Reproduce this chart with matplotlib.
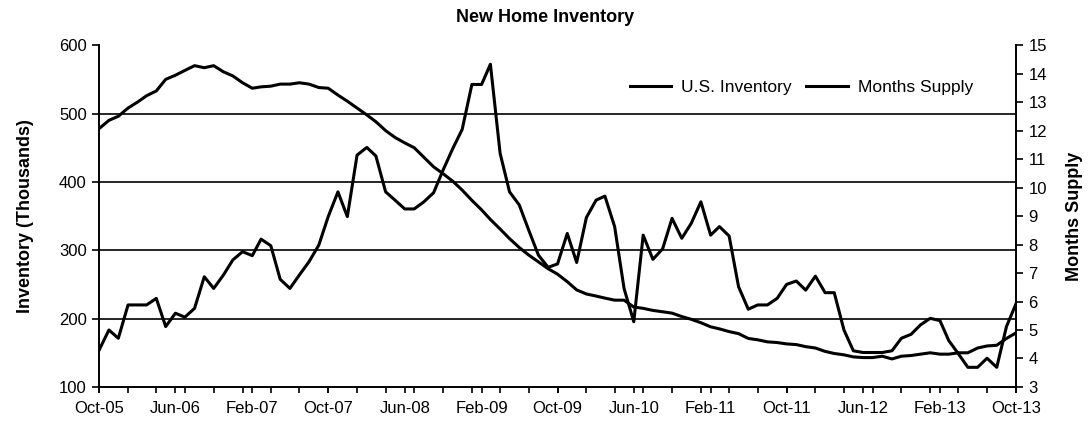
import matplotlib
matplotlib.use("Agg")
import matplotlib.pyplot as plt
import matplotlib.dates as mdates
import pandas as pd

plt.rcParams["font.family"] = ["Liberation Sans", "DejaVu Sans"]
plt.rcParams["font.size"] = 12

# monthly data, Oct-05 .. Oct-13
months = pd.date_range("2005-10-01", periods=97, freq="MS")

# new homes for sale, thousands (left axis)
inventory = [
    478, 490, 496, 508, 517, 526, 533, 550, 556, 563, 570, 567, 570,
    561, 555, 545, 537, 539, 540, 543, 543, 545, 543, 538, 537,
    527, 518, 508, 498, 488, 475, 465, 457, 450, 436, 422, 412,
    401, 388, 373, 359, 345, 331, 317, 304, 293, 283, 273, 265,
    254, 242, 236, 233, 230, 227, 227, 217, 215, 212, 210, 208,
    203, 199, 194, 188, 185, 181, 178, 171, 169, 166, 165, 163,
    162, 159, 157, 152, 149, 147, 144, 143, 143, 145, 141, 145,
    146, 148, 150, 148, 148, 150, 150, 157, 160, 161, 171, 179,
]

# months supply (right axis)
months_supply = [
    4.30, 5.00, 4.71, 5.88, 5.88, 5.88, 6.11, 5.12, 5.59, 5.45, 5.76, 6.87, 6.46,
    6.93, 7.46, 7.75, 7.61, 8.19, 7.96, 6.78, 6.46, 6.93, 7.40, 7.98, 8.98,
    9.85, 8.98, 11.14, 11.41, 11.11, 9.85, 9.56, 9.25, 9.25, 9.50, 9.82, 10.61,
    11.37, 12.04, 13.62, 13.62, 14.33, 11.20, 9.85, 9.39, 8.51, 7.63, 7.20, 7.32,
    8.39, 7.37, 8.95, 9.56, 9.70, 8.63, 6.46, 5.29, 8.33, 7.48, 7.85, 8.92,
    8.22, 8.74, 9.50, 8.33, 8.63, 8.30, 6.52, 5.73, 5.88, 5.88, 6.11, 6.60,
    6.72, 6.40, 6.89, 6.31, 6.31, 5.00, 4.27, 4.21, 4.21, 4.21, 4.27, 4.71,
    4.85, 5.18, 5.41, 5.33, 4.63, 4.16, 3.69, 3.69, 4.01, 3.69, 5.12, 5.91,
]

fig = plt.figure(figsize=(10.9, 4.22), dpi=100)
ax = fig.add_axes([0.091, 0.083, 0.841, 0.810])
ax2 = ax.twinx()

for v in [200, 300, 400, 500]:
    ax.axhline(v, color="black", lw=1.2, zorder=1)

l1, = ax.plot(months, inventory, color="black", lw=2.2, label="U.S. Inventory", zorder=3)
l2, = ax2.plot(months, months_supply, color="black", lw=2.2, label="Months Supply", zorder=3)

ax.set_xlim(months[0], months[-1])
ax.set_ylim(100, 600)
ax.set_yticks(range(100, 601, 100))
ax2.set_ylim(3, 15)
ax2.set_yticks(range(3, 16))

ax.set_xticks(months[::8])
ax.xaxis.set_major_formatter(mdates.DateFormatter("%b-%y"))
ax.set_xticks(months[::3], minor=True)
ax.xaxis.remove_overlapping_locs = False

for a in (ax, ax2):
    a.spines["top"].set_visible(False)
    for s in a.spines.values():
        s.set_linewidth(1.2)
    a.tick_params(axis="both", which="both", direction="out", length=5, width=1.2,
                  color="black", labelsize=12, pad=4)
ax.tick_params(axis="x", which="both", length=4, pad=6)

ax.set_ylabel("Inventory (Thousands)", fontweight="bold", fontsize=13, labelpad=18)
ax2.set_ylabel("Months Supply", fontweight="bold", fontsize=13, labelpad=14)
fig.text(0.5, 0.958, "New Home Inventory", fontweight="bold", fontsize=13,
         ha="center", va="center")

ax2.legend(handles=[l1, l2], loc="center right", bbox_to_anchor=(0.953, 0.877),
           ncol=2, frameon=False, fontsize=12.5, handlelength=2.4, handletextpad=0.55,
           columnspacing=0.85, borderaxespad=0, borderpad=0)

fig.savefig("out.png", dpi=100)
